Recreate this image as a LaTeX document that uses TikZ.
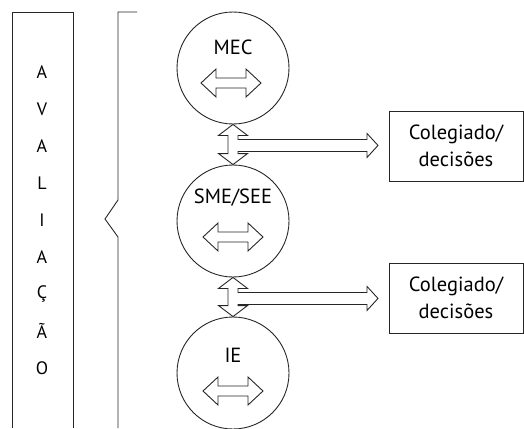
\documentclass[tikz,border=0pt]{standalone}
\usepackage{fontspec}
\setmainfont{PT Sans}
\usetikzlibrary{calc}

% double arrow lying inside a circle
\newcommand{\innerarrow}[1]{%
  \draw (#1) ++(-30,0) -- ++(15,-14) -- ++(0,9) -- ++(30,0) -- ++(0,-9)
    -- ++(15,14) -- ++(-15,14) -- ++(0,-9) -- ++(-30,0) -- ++(0,9) -- cycle;}

% vertical double arrow between two circles, with its branch to the right
\newcommand{\linkarrow}[2]{%
  \draw (#1.south) -- ++(14.5,11) -- ++(-9.5,0) -- ++(0,4) -- ++(129,0)
    -- ++(0,-6) -- ++(11,12) -- ++(-11,12) -- ++(0,-6) -- ++(-129,0)
    |- ($(#2.north)+(14.5,-11)$) -- (#2.north) -- ++(-14.5,-11) -- ++(9.5,0)
    |- ($(#1.south)+(-14.5,11)$) -- cycle;}

\begin{document}
\begin{tikzpicture}[x=1pt,y=-1pt,line width=.9pt,draw=black!85]

  \useasboundingbox (0,0) rectangle (524,428);

  % frame and brace
  \draw (12,428) -- (12,12) -- (73,12) -- (73,428);
  \draw (137,12) -- (118,12) -- (118,200) -- (105,219) -- (118,237) -- (118,428);

  \begin{scope}[every node/.style={font=\fontsize{18}{18}\selectfont}]
    \foreach \l [count=\i from 0] in {A,V,A,L,I,A,Ç,Ã,O}
      \node (l\i) at (42,72+37*\i) {\l};
  \end{scope}

  \begin{scope}[every node/.style={circle,draw,minimum size=112pt,inner sep=0pt}]
    \node (mec) at (233,68)  {};
    \node (sme) at (233,221) {};
    \node (ie)  at (233,373) {};
  \end{scope}

  \begin{scope}[every node/.style={font=\fontsize{20.5}{20.5}\selectfont}]
    \node (mect) at (233,47)  {MEC};
    \node (smet) at (233,198) {SME/SEE};
    \node (iet)  at (233,355) {IE};
  \end{scope}

  \innerarrow{231,83}
  \innerarrow{233,237}
  \innerarrow{233,391}

  \begin{scope}[every node/.style={draw,minimum width=134pt,minimum height=70pt,
      align=center,font=\fontsize{20.5}{27}\selectfont}]
    \node (col1) at (456,146) {Colegiado/\\decisões};
    \node (col2) at (456,298) {Colegiado/\\decisões};
  \end{scope}

  \linkarrow{mec}{sme}
  \linkarrow{sme}{ie}

\end{tikzpicture}
\end{document}
